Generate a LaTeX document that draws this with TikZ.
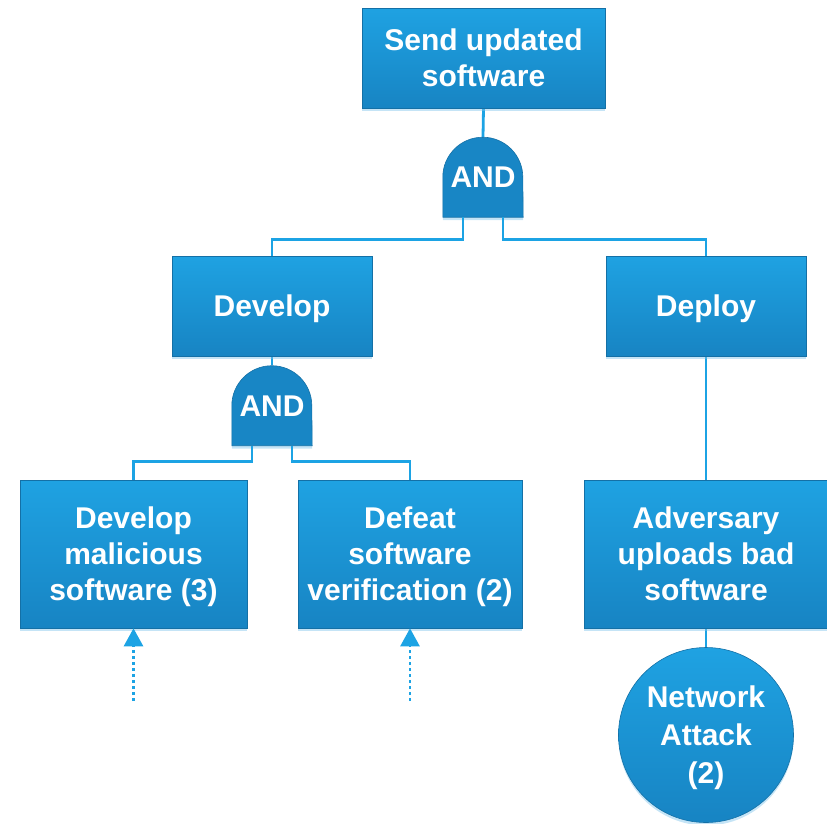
\documentclass[tikz,border=0pt]{standalone}
\usepackage{fontspec}
\setmainfont{Liberation Sans}
\usetikzlibrary{arrows.meta,shadows,backgrounds}

\definecolor{boxlight}{HTML}{1FA2E2}
\definecolor{boxdark}{HTML}{1784C3}
\definecolor{wire}{HTML}{1CA3E4}
\definecolor{shade}{HTML}{7FC4EA}

% strut for the first line of a label, so every block is centred the same way
\newcommand\topstrut{\rule{0pt}{28pt}}

\tikzset{
  lbl/.style={font=\fontsize{30}{36}\selectfont\bfseries, text=white, align=center,
    execute at end node={\rule[-7pt]{0pt}{7pt}}},
  blk/.style={lbl, rectangle, inner sep=0pt,
    top color=boxlight, bottom color=boxdark,
    draw=boxdark!85!black, line width=0.6pt,
    drop shadow={shadow xshift=0pt, shadow yshift=-3pt, fill=shade, opacity=0.45}},
  leaf/.style={lbl, font=\fontsize{30}{38}\selectfont\bfseries,
    circle, inner sep=0pt, minimum size=175pt,
    top color=boxlight, bottom color=boxdark,
    draw=boxdark!85!black, line width=0.6pt,
    drop shadow={shadow xshift=0pt, shadow yshift=-3pt, fill=shade, opacity=0.45}},
  gatebox/.style={lbl, rectangle, inner sep=0pt, minimum width=80pt, minimum height=80pt},
  gateshape/.style={fill=boxdark!92!boxlight, draw=boxdark!85!black, line width=0.6pt,
    drop shadow={shadow xshift=0pt, shadow yshift=-3pt, fill=shade, opacity=0.45}},
  wireline/.style={draw=wire, line width=2.8pt},
  feed/.style={draw=wire, line width=2.8pt, dash pattern=on 3pt off 3pt,
    -{Triangle[width=19pt,length=18pt]}}
}

% AND gate outline: flat base with a semicircular dome
\newcommand\andoutline[1]{%
  \begin{scope}[on background layer]
    \path[gateshape] (#1.south west) -- ([yshift=40pt]#1.south west)
      arc[start angle=180, end angle=0, radius=40pt] -- (#1.south east) -- cycle;
  \end{scope}}

\begin{document}
\begin{tikzpicture}[x=1pt, y=-1pt]
  \useasboundingbox (0,0) rectangle (827,823);

  % boxes
  \node[blk, minimum width=243pt, minimum height=100pt] (top) at (483.5,58) {\topstrut Send updated\\software};
  \node[blk, minimum width=200pt, minimum height=100pt] (develop) at (272,306) {\topstrut Develop};
  \node[blk, minimum width=200pt, minimum height=100pt] (deploy) at (706,306) {\topstrut Deploy};
  \node[blk, minimum width=227pt, minimum height=148pt] (malicious) at (133.5,554) {\topstrut Develop\\malicious\\software (3)};
  \node[blk, minimum width=224pt, minimum height=148pt] (verify) at (410,554) {\topstrut Defeat\\software\\verification (2)};
  \node[blk, minimum width=244pt, minimum height=148pt] (upload) at (706,554) {\topstrut Adversary\\uploads bad\\software};
  \node[leaf] (network) at (706,735) {\topstrut Network\\Attack\\(2)};

  % gates
  \node[gatebox] (gtop) at (483,177) {\topstrut AND};
  \andoutline{gtop}
  \node[gatebox] (gdev) at (272,405.5) {\topstrut AND};
  \andoutline{gdev}

  % wiring
  \begin{scope}[on background layer]
    \draw[wireline] (top.south) -- (gtop.north);
    \draw[wireline] ([xshift=-20pt]gtop.south) -- ++(0,22) -| (develop.north);
    \draw[wireline] ([xshift=20pt]gtop.south) -- ++(0,22) -| (deploy.north);
    \draw[wireline] (develop.south) -- (gdev.north);
    \draw[wireline] ([xshift=-20pt]gdev.south) -- ++(0,15.5) -| (malicious.north);
    \draw[wireline] ([xshift=20pt]gdev.south) -- ++(0,15.5) -| (verify.north);
    \draw[wireline] (deploy.south) -- (upload.north);
    \draw[wireline] (upload.south) -- (network.north);
  \end{scope}

  % incoming sub-trees
  \coordinate (inA) at (133.5,701);
  \coordinate (inB) at (410,701);
  \draw[feed] (inA) -- (malicious.south);
  \draw[feed] (inB) -- (verify.south);
\end{tikzpicture}
\end{document}
